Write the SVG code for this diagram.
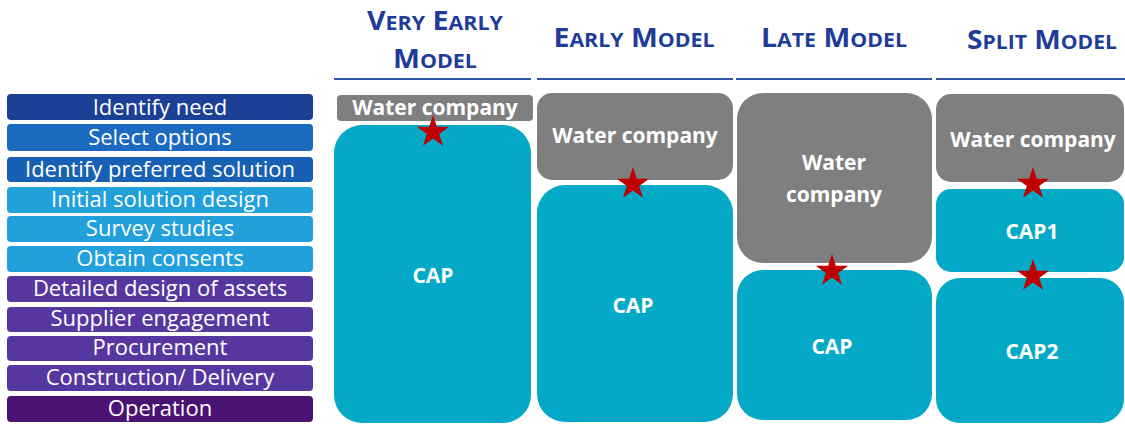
<svg xmlns="http://www.w3.org/2000/svg" xmlns:xlink="http://www.w3.org/1999/xlink" width="1125" height="424" viewBox="0 0 1125 424">
<style>
  .bt { font-family: "Open Sans", Lato, "Liberation Sans", sans-serif; font-size: 22px; fill: #ffffff; text-anchor: middle; }
  .hd { font-family: "Open Sans", Lato, "Liberation Sans", sans-serif; font-weight: bold; fill: #1f3c98; text-anchor: middle; }
  .big { font-size: 26px; }
  .sm { font-size: 19.5px; }
  .rule { stroke: #2f55a8; stroke-width: 2; }
  .wc { fill: #7f7f7f; }
  .cap { fill: #03a9c6; }
  .lbl { font-family: "Open Sans", Lato, "Liberation Sans", sans-serif; font-weight: bold; font-size: 21px; fill: #ffffff; text-anchor: middle; }
  .star { fill: #c00000; }
  .c1 { fill: #1b4096; }
  .c2 { fill: #1c6abf; }
  .c3 { fill: #1860b3; }
  .c4 { fill: #21a0dc; }
  .c7 { fill: #5637a0; }
  .c11 { fill: #4a1272; }
</style>
<defs>
  <polygon id="star" class="star" points="0,-17 3.82,-5.26 16.17,-5.25 6.18,2.01 9.99,13.75 0,6.5 -9.99,13.75 -6.18,2.01 -16.17,-5.25 -3.82,-5.26"/>
</defs>
<rect width="1125" height="424" fill="#ffffff"/>

<g id="stages">
  <g id="s1"><rect class="c1" x="7" y="94" width="306" height="26" rx="4"/><text class="bt" x="160" y="115">Identify need</text></g>
  <g id="s2"><rect class="c2" x="7" y="124" width="306" height="27" rx="4"/><text class="bt" x="160" y="145">Select options</text></g>
  <g id="s3"><rect class="c3" x="7" y="157" width="306" height="25" rx="4"/><text class="bt" x="160" y="177">Identify preferred solution</text></g>
  <g id="s4"><rect class="c4" x="7" y="187" width="306" height="26" rx="4"/><text class="bt" x="160" y="207">Initial solution design</text></g>
  <g id="s5"><rect class="c4" x="7" y="216" width="306" height="26" rx="4"/><text class="bt" x="160" y="236">Survey studies</text></g>
  <g id="s6"><rect class="c4" x="7" y="246" width="306" height="26" rx="4"/><text class="bt" x="160" y="266">Obtain consents</text></g>
  <g id="s7"><rect class="c7" x="7" y="276" width="306" height="26" rx="4"/><text class="bt" x="160" y="296">Detailed design of assets</text></g>
  <g id="s8"><rect class="c7" x="7" y="307" width="306" height="25" rx="4"/><text class="bt" x="160" y="326">Supplier engagement</text></g>
  <g id="s9"><rect class="c7" x="7" y="336" width="306" height="25" rx="4"/><text class="bt" x="160" y="355">Procurement</text></g>
  <g id="s10"><rect class="c7" x="7" y="365" width="306" height="26" rx="4"/><text class="bt" x="160" y="385">Construction/ Delivery</text></g>
  <g id="s11"><rect class="c11" x="7" y="396" width="306" height="26" rx="4"/><text class="bt" x="160" y="416">Operation</text></g>
</g>

<g id="headers">
  <text class="hd" x="435" y="30" textLength="136" lengthAdjust="spacingAndGlyphs"><tspan class="big">V</tspan><tspan class="sm">ERY</tspan><tspan class="big"> E</tspan><tspan class="sm">ARLY</tspan></text>
  <text class="hd" x="435" y="68" textLength="84" lengthAdjust="spacingAndGlyphs"><tspan class="big">M</tspan><tspan class="sm">ODEL</tspan></text>
  <text class="hd" x="634" y="47" textLength="161" lengthAdjust="spacingAndGlyphs"><tspan class="big">E</tspan><tspan class="sm">ARLY</tspan><tspan class="big"> M</tspan><tspan class="sm">ODEL</tspan></text>
  <text class="hd" x="834" y="47" textLength="146" lengthAdjust="spacingAndGlyphs"><tspan class="big">L</tspan><tspan class="sm">ATE</tspan><tspan class="big"> M</tspan><tspan class="sm">ODEL</tspan></text>
  <text class="hd" x="1042" y="49" textLength="150" lengthAdjust="spacingAndGlyphs"><tspan class="big">S</tspan><tspan class="sm">PLIT</tspan><tspan class="big"> M</tspan><tspan class="sm">ODEL</tspan></text>
  <line class="rule" x1="334" y1="79" x2="531" y2="79"/>
  <line class="rule" x1="537" y1="79" x2="733" y2="79"/>
  <line class="rule" x1="736" y1="79" x2="932" y2="79"/>
  <line class="rule" x1="936" y1="79" x2="1125" y2="79"/>
</g>

<g id="very-early">
  <g id="ve-wc"><rect class="wc" x="337" y="95" width="196" height="26" rx="4"/><text class="lbl" x="435" y="115">Water company</text></g>
  <g id="ve-cap"><rect class="cap" x="334" y="125" width="197" height="298" rx="28"/><text class="lbl" x="433" y="283">CAP</text></g>
</g>

<g id="early">
  <g id="e-wc"><rect class="wc" x="537" y="93" width="196" height="87" rx="15"/><text class="lbl" x="635" y="143">Water company</text></g>
  <g id="e-cap"><rect class="cap" x="537" y="185" width="196" height="237" rx="28"/><text class="lbl" x="633" y="313">CAP</text></g>
</g>

<g id="late">
  <g id="l-wc"><rect class="wc" x="737" y="93" width="195" height="170" rx="26"/><text class="lbl" x="834" y="170">Water</text><text class="lbl" x="834" y="202">company</text></g>
  <g id="l-cap"><rect class="cap" x="737" y="270" width="195" height="150" rx="26"/><text class="lbl" x="832" y="354">CAP</text></g>
</g>

<g id="split">
  <g id="sp-wc"><rect class="wc" x="936" y="94" width="188" height="88" rx="15"/><text class="lbl" x="1033" y="147">Water company</text></g>
  <g id="sp-cap1"><rect class="cap" x="936" y="189" width="188" height="83" rx="15"/><text class="lbl" x="1032" y="239">CAP1</text></g>
  <g id="sp-cap2"><rect class="cap" x="936" y="278" width="188" height="145" rx="24"/><text class="lbl" x="1032" y="359">CAP2</text></g>
</g>

<g id="connectors">
  <use xlink:href="#star" x="433" y="132"/>
  <use xlink:href="#star" x="633" y="184"/>
  <use xlink:href="#star" x="832" y="271"/>
  <use xlink:href="#star" x="1033" y="184"/>
  <use xlink:href="#star" x="1033" y="276"/>
</g>
</svg>
